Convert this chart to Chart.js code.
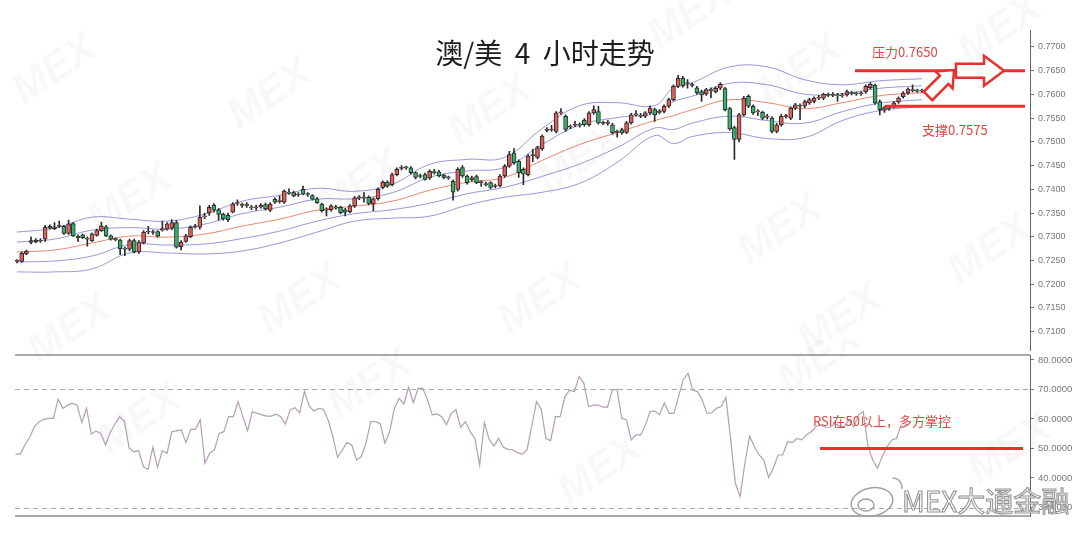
<!DOCTYPE html>
<html>
<head>
<meta charset="utf-8">
<script src="https://cdn.jsdelivr.net/npm/chart.js@4.4.0/dist/chart.umd.min.js"></script>
<style>
  html, body { margin: 0; padding: 0; background: #fff; }
  #wrap { position: relative; width: 1080px; height: 534px; overflow: hidden; }
  #priceChart { position: absolute; left: 0; top: 0; }
  #rsiChart { position: absolute; left: 0; top: 340px; }
</style>
</head>
<body>
<div id="wrap">
  <canvas id="priceChart" width="1080" height="360"></canvas>
  <canvas id="rsiChart" width="1080" height="194"></canvas>
</div>
<script>
// AUD/USD 4h candles (oldest first)
const opens = [
  .7248,.7248,.7264,.7288,.7289,.7293,.7295,.7322,.7317,.7322,
  .7322,.7307,.7328,.7301,.7304,.7297,.7292,.7303,.7313,.7321,
  .7302,.7295,.7293,.7276,.7274,.7292,.7268,.7287,.7310,.7311,
  .7311,.7314,.7316,.7318,.7330,.7279,.7290,.7300,.7320,.7320,
  .7342,.7350,.7366,.7357,.7348,.7345,.7352,.7370,.7368,.7366,
  .7363,.7361,.7363,.7368,.7356,.7379,.7374,.7373,.7394,.7393,
  .7388,.7400,.7390,.7387,.7380,.7369,.7356,.7357,.7363,.7362,
  .7357,.7353,.7365,.7382,.7383,.7383,.7369,.7380,.7404,.7415,
  .7410,.7431,.7444,.7446,.7445,.7435,.7427,.7431,.7424,.7436,
  .7437,.7430,.7425,.7417,.7400,.7446,.7428,.7420,.7427,.7414,
  .7412,.7414,.7406,.7407,.7428,.7449,.7477,.7459,.7442,.7431,
  .7471,.7467,.7485,.7524,.7527,.7522,.7561,.7554,.7531,.7535,
  .7537,.7546,.7536,.7561,.7564,.7541,.7539,.7536,.7520,.7526,
  .7520,.7540,.7557,.7556,.7554,.7561,.7568,.7562,.7564,.7575,
  .7589,.7617,.7634,.7623,.7621,.7614,.7606,.7601,.7610,.7606,
  .7613,.7612,.7570,.7530,.7505,.7557,.7596,.7575,.7563,.7562,
  .7552,.7550,.7522,.7536,.7553,.7550,.7571,.7577,.7575,.7582,
  .7585,.7592,.7592,.7600,.7598,.7599,.7597,.7599,.7604,.7602,
  .7601,.7605,.7614,.7619,.7585,.7567,.7571,.7574,.7584,.7595,
  .7603,.7610,.7608,.7607
];
const highs = [
  .7252,.7268,.7272,.7300,.7296,.7296,.7324,.7325,.7330,.7333,
  .7324,.7335,.7330,.7304,.7306,.7300,.7308,.7316,.7331,.7324,
  .7304,.7298,.7295,.7278,.7295,.7295,.7292,.7313,.7322,.7314,
  .7313,.7333,.7330,.7336,.7334,.7292,.7305,.7323,.7326,.7365,
  .7350,.7366,.7370,.7360,.7350,.7350,.7372,.7378,.7371,.7372,
  .7366,.7367,.7370,.7371,.7372,.7382,.7386,.7399,.7401,.7396,
  .7393,.7407,.7393,.7389,.7383,.7371,.7361,.7368,.7366,.7364,
  .7360,.7368,.7385,.7387,.7393,.7386,.7382,.7403,.7418,.7418,
  .7434,.7445,.7450,.7449,.7448,.7437,.7432,.7434,.7441,.7442,
  .7440,.7432,.7428,.7420,.7446,.7450,.7430,.7428,.7430,.7418,
  .7415,.7416,.7411,.7431,.7452,.7480,.7486,.7462,.7445,.7473,
  .7484,.7491,.7515,.7530,.7535,.7564,.7570,.7557,.7536,.7543,
  .7540,.7549,.7564,.7576,.7575,.7544,.7545,.7539,.7525,.7529,
  .7543,.7560,.7566,.7560,.7564,.7576,.7571,.7568,.7578,.7592,
  .7620,.7640,.7638,.7631,.7624,.7617,.7609,.7613,.7614,.7616,
  .7625,.7615,.7573,.7533,.7560,.7596,.7599,.7578,.7568,.7565,
  .7558,.7553,.7539,.7558,.7558,.7574,.7581,.7580,.7588,.7592,
  .7595,.7598,.7603,.7603,.7604,.7602,.7602,.7609,.7607,.7605,
  .7606,.7620,.7625,.7622,.7588,.7575,.7574,.7585,.7595,.7606,
  .7614,.7620,.7611,.7611
];
const lows = [
  .7245,.7246,.7262,.7285,.7287,.7288,.7290,.7316,.7315,.7319,
  .7305,.7305,.7300,.7290,.7296,.7280,.7290,.7301,.7311,.7300,
  .7293,.7291,.7262,.7260,.7270,.7266,.7265,.7285,.7306,.7305,
  .7299,.7312,.7314,.7315,.7276,.7272,.7288,.7298,.7318,.7316,
  .7338,.7345,.7352,.7335,.7335,.7332,.7350,.7366,.7362,.7362,
  .7357,.7356,.7360,.7356,.7353,.7370,.7371,.7370,.7389,.7384,
  .7385,.7388,.7385,.7377,.7370,.7352,.7344,.7354,.7358,.7348,
  .7344,.7350,.7362,.7378,.7373,.7367,.7355,.7377,.7401,.7404,
  .7407,.7428,.7441,.7442,.7432,.7422,.7424,.7419,.7421,.7432,
  .7426,.7422,.7421,.7377,.7396,.7425,.7411,.7417,.7412,.7406,
  .7407,.7401,.7403,.7405,.7425,.7446,.7453,.7425,.7410,.7428,
  .7458,.7464,.7482,.7521,.7522,.7519,.7558,.7522,.7528,.7532,
  .7531,.7533,.7533,.7558,.7537,.7536,.7535,.7516,.7510,.7516,
  .7517,.7537,.7554,.7551,.7551,.7558,.7543,.7559,.7561,.7572,
  .7586,.7614,.7615,.7613,.7616,.7600,.7585,.7598,.7593,.7603,
  .7610,.7565,.7524,.7463,.7500,.7554,.7572,.7558,.7555,.7547,
  .7548,.7519,.7519,.7533,.7550,.7547,.7568,.7547,.7572,.7579,
  .7582,.7589,.7589,.7595,.7595,.7585,.7594,.7596,.7599,.7598,
  .7598,.7602,.7611,.7579,.7557,.7562,.7566,.7571,.7581,.7592,
  .7600,.7605,.7604,.7604
];
const closes = [
  .7249,.7265,.7270,.7292,.7293,.7291,.7320,.7318,.7321,.7323,
  .7307,.7327,.7302,.7298,.7298,.7295,.7306,.7313,.7323,.7302,
  .7295,.7294,.7275,.7274,.7292,.7268,.7289,.7310,.7312,.7309,
  .7301,.7317,.7327,.7330,.7278,.7289,.7302,.7320,.7322,.7341,
  .7344,.7362,.7356,.7347,.7338,.7336,.7369,.7372,.7366,.7367,
  .7361,.7362,.7366,.7359,.7369,.7373,.7376,.7396,.7392,.7386,
  .7390,.7390,.7389,.7379,.7372,.7355,.7358,.7365,.7361,.7351,
  .7352,.7365,.7382,.7383,.7382,.7370,.7380,.7400,.7415,.7407,
  .7431,.7442,.7446,.7445,.7435,.7425,.7429,.7421,.7438,.7435,
  .7428,.7425,.7424,.7394,.7442,.7428,.7414,.7424,.7414,.7415,
  .7410,.7404,.7408,.7428,.7449,.7473,.7456,.7435,.7432,.7470,
  .7473,.7488,.7512,.7527,.7525,.7561,.7563,.7526,.7533,.7537,
  .7535,.7536,.7561,.7568,.7540,.7539,.7541,.7519,.7522,.7519,
  .7540,.7557,.7559,.7554,.7561,.7571,.7557,.7564,.7575,.7589,
  .7617,.7634,.7618,.7625,.7619,.7603,.7599,.7610,.7608,.7613,
  .7621,.7568,.7527,.7505,.7557,.7592,.7575,.7561,.7565,.7550,
  .7554,.7522,.7536,.7554,.7555,.7571,.7578,.7575,.7585,.7589,
  .7592,.7594,.7600,.7598,.7600,.7597,.7599,.7606,.7602,.7601,
  .7603,.7617,.7621,.7582,.7568,.7572,.7570,.7582,.7592,.7603,
  .7611,.7608,.7607,.7608
];

// bollinger lines, sampled at these candle numbers
const bandIdx = [0,8,16,24,32,40,48,56,64,72,80,88,96,104,112,120,128,136,140,144,152,160,168,176,184,193];
const bbUpper2 = [.73098,.73182,.73413,.73371,.73329,.73476,.73749,.73874,.74021,.73958,.74105,.74525,.74630,.74672,.75280,.75762,.75825,.75762,.76140,.76245,.76580,.76580,.76308,.76203,.76287,.76329];
const bbUpper1 = [.72889,.72951,.73140,.73193,.73161,.73266,.73486,.73623,.73791,.73801,.73927,.74252,.74388,.74462,.74944,.75353,.75511,.75605,.75846,.75962,.76234,.76203,.76004,.76014,.76129,.76182];
const bbMid    = [.72679,.72721,.72868,.73014,.72993,.73056,.73224,.73371,.73560,.73644,.73749,.73979,.74147,.74252,.74609,.74944,.75196,.75448,.75553,.75678,.75888,.75825,.75699,.75825,.75972,.76035];
const bbLower1 = [.72469,.72490,.72595,.72836,.72826,.72847,.72962,.73119,.73329,.73486,.73570,.73707,.73906,.74042,.74273,.74535,.74881,.75290,.75259,.75395,.75542,.75448,.75395,.75636,.75815,.75888];
const bbLower2 = [.72259,.72259,.72322,.72658,.72658,.72637,.72700,.72868,.73098,.73329,.73392,.73434,.73665,.73832,.73937,.74126,.74567,.75133,.74965,.75112,.75196,.75070,.75091,.75448,.75657,.75741];

const rsiValues = [
  48.1,48.1,51.2,53.8,57.4,59.1,59.9,60.2,60.2,66.7,
  63.6,64.7,65.3,64.7,58.8,63.6,54.9,55.9,55.1,51.2,
  55.4,58.3,60.8,59.1,50.1,48.9,49.3,43.8,42.9,50.4,
  43.6,49.3,48.4,55.7,56.0,56.3,52.0,56.5,56.5,59.7,
  45.0,48.4,49.5,55.1,55.7,60.8,60.8,65.9,60.8,56.0,
  62.5,61.9,61.4,61.0,61.0,61.6,60.8,58.3,63.1,63.8,
  62.1,69.3,64.4,62.7,63.6,63.3,59.7,54.0,47.0,49.5,
  52.0,51.2,46.1,47.2,51.8,59.1,59.1,58.5,51.8,55.7,
  63.6,67.0,65.1,70.7,65.5,70.4,70.4,66.4,61.4,61.7,
  60.8,58.0,61.9,63.1,57.2,59.1,55.7,53.4,44.4,58.8,
  53.1,50.8,53.4,50.4,49.7,49.5,48.6,48.1,49.5,57.6,
  65.9,63.3,53.4,52.7,60.8,
  60.8,67.6,69.8,69.3,74.4,72.1,64.2,64.7,64.7,64.0,
  64.0,69.8,70.1,60.2,59.7,52.9,54.6,54.6,58.0,62.5,
  62.7,61.4,65.5,61.9,61.9,67.6,73.4,75.5,69.8,69.3,
  66.4,61.9,62.1,63.6,64.2,67.3,52.9,38.2,33.7,45.0,
  54.2,50.6,47.8,46.1,40.2,43.3,47.8,47.8,52.3,52.0,
  53.4,52.9,54.6,55.7,57.4,58.0,57.2,57.2,58.5,57.6,
  57.4,59.7,57.2,61.4,62.5,50.6,46.1,43.3,47.2,50.6,
  52.9,53.4,58.0
];

const priceTicks = [0.7100,0.7150,0.7200,0.7250,0.7300,0.7350,0.7400,0.7450,0.7500,0.7550,0.7600,0.7650,0.7700];
const rsiTicks = [30,40,50,60,70,80];
const resistance = 0.7650;
const support = 0.7575;

const upColor = '#e35d58';
const downColor = '#34b26c';
const bandColor = 'rgba(125,125,210,0.8)';
const midColor = '#e8866f';
const annoRed = '#e8302c';

const candleIdx = opens.map((_, i) => i);
const wickData = candleIdx.map(i => ({x: i, y: [lows[i], highs[i]]}));
const bodyData = candleIdx.map(i => ({x: i, y: [Math.min(opens[i], closes[i]), Math.max(opens[i], closes[i])]}));
const bodyColors = candleIdx.map(i => closes[i] >= opens[i] ? upColor : downColor);
const band = arr => bandIdx.map((x, k) => ({x: x, y: arr[k]}));

function bandLine(arr, color) {
  return {
    type: 'line', data: band(arr), borderColor: color, borderWidth: 1,
    pointRadius: 0, tension: 0.4, fill: false, order: 3
  };
}

function watermarks(ctx, spots) {
  ctx.save();
  ctx.fillStyle = 'rgba(0,0,0,0.028)';
  ctx.font = 'italic bold 42px Arial';
  ctx.textAlign = 'center';
  ctx.textBaseline = 'middle';
  spots.forEach(p => {
    ctx.save();
    ctx.translate(p[0], p[1]);
    ctx.rotate(-0.6);
    ctx.fillText('MEX', 0, 0);
    ctx.restore();
  });
  ctx.restore();
}

function hollowArrow(ctx, x0, y0, x1, y1, shaft, head, headLen) {
  const len = Math.hypot(x1 - x0, y1 - y0);
  ctx.save();
  ctx.translate(x0, y0);
  ctx.rotate(Math.atan2(y1 - y0, x1 - x0));
  ctx.beginPath();
  ctx.moveTo(0, -shaft);
  ctx.lineTo(len - headLen, -shaft);
  ctx.lineTo(len - headLen, -head);
  ctx.lineTo(len, 0);
  ctx.lineTo(len - headLen, head);
  ctx.lineTo(len - headLen, shaft);
  ctx.lineTo(0, shaft);
  ctx.closePath();
  ctx.fillStyle = '#fff';
  ctx.fill();
  ctx.lineWidth = 2.5;
  ctx.strokeStyle = annoRed;
  ctx.stroke();
  ctx.restore();
}

const priceDecor = {
  id: 'priceDecor',
  afterDatasetsDraw(chart) {
    const ctx = chart.ctx;
    const y = chart.scales.y;
    const yR = y.getPixelForValue(resistance);
    const yS = y.getPixelForValue(support);
    ctx.save();
    ctx.strokeStyle = annoRed;
    ctx.lineWidth = 3;
    ctx.beginPath();
    ctx.moveTo(855, yR); ctx.lineTo(1025, yR);
    ctx.moveTo(885, yS); ctx.lineTo(1025, yS);
    ctx.stroke();
    hollowArrow(ctx, 928, 96, 954, 70, 6, 12, 14);
    hollowArrow(ctx, 956, yR, 1004, yR, 7, 15, 20);
    ctx.fillStyle = '#e0463f';
    ctx.font = '13px "Noto Sans CJK SC"';
    ctx.textBaseline = 'alphabetic';
    ctx.fillText('压力0.7650', 872, 57);
    ctx.fillText('支撑0.7575', 922, 135);
    ctx.fillStyle = '#1e1e1e';
    ctx.font = '28px "Noto Sans CJK SC"';
    ctx.textAlign = 'center';
    ctx.fillText('澳/美  4  小时走势', 545, 64);
    ctx.restore();
  },
  afterDraw(chart) {
    watermarks(chart.ctx, [[55,70],[270,95],[490,110],[690,15],[130,200],[360,185],[580,160],[800,70],[1000,30],
      [70,330],[300,300],[540,300],[780,230],[990,250],[840,320]]);
  }
};

const rsiDecor = {
  id: 'rsiDecor',
  beforeDatasetsDraw(chart) {
    const ctx = chart.ctx;
    const a = chart.chartArea;
    const y = chart.scales.y;
    ctx.save();
    ctx.strokeStyle = '#8c8c8c';
    ctx.lineWidth = 1.5;
    ctx.beginPath();
    ctx.moveTo(a.left, a.top); ctx.lineTo(a.right, a.top);
    ctx.moveTo(a.left, a.bottom); ctx.lineTo(a.right, a.bottom);
    ctx.stroke();
    ctx.strokeStyle = '#a8a8a8';
    ctx.lineWidth = 1;
    ctx.setLineDash([5, 4]);
    [70, 30].forEach(v => {
      const py = Math.round(y.getPixelForValue(v)) + 0.5;
      ctx.beginPath();
      ctx.moveTo(a.left, py); ctx.lineTo(a.right, py);
      ctx.stroke();
    });
    ctx.restore();
  },
  afterDatasetsDraw(chart) {
    const ctx = chart.ctx;
    const y = chart.scales.y;
    const y50 = y.getPixelForValue(50);
    ctx.save();
    ctx.strokeStyle = annoRed;
    ctx.lineWidth = 3;
    ctx.beginPath();
    ctx.moveTo(820, y50); ctx.lineTo(1023, y50);
    ctx.stroke();
    ctx.fillStyle = '#e0463f';
    ctx.font = '13px "Noto Sans CJK SC"';
    ctx.fillText('RSI在50以上，多方掌控', 813, 86);
    ctx.restore();
  },
  afterDraw(chart) {
    const ctx = chart.ctx;
    watermarks(ctx, [[140,80],[370,45],[600,130],[820,20],[1010,110]]);
    ctx.save();
    // weibo style mark bottom right
    ctx.strokeStyle = '#a0a0a0';
    ctx.lineWidth = 1.5;
    ctx.beginPath();
    ctx.ellipse(872, 162, 21, 14, -0.2, 0, Math.PI * 2);
    ctx.stroke();
    ctx.beginPath();
    ctx.ellipse(866, 165, 8, 6, 0, 0, Math.PI * 2);
    ctx.stroke();
    ctx.beginPath();
    ctx.arc(893, 147, 9, -1.6, 0.2);
    ctx.stroke();
    ctx.font = '28px "Noto Sans CJK SC"';
    ctx.fillStyle = 'rgba(255,255,255,0.9)';
    ctx.strokeStyle = '#959595';
    ctx.lineWidth = 1.1;
    ctx.fillText('MEX大通金融', 902, 172);
    ctx.strokeText('MEX大通金融', 902, 172);
    ctx.restore();
  }
};

new Chart(document.getElementById('priceChart'), {
  type: 'bar',
  data: {
    datasets: [
      bandLine(bbUpper2, bandColor),
      bandLine(bbUpper1, bandColor),
      bandLine(bbMid, midColor),
      bandLine(bbLower1, bandColor),
      bandLine(bbLower2, bandColor),
      {
        type: 'bar', data: wickData, backgroundColor: '#2a2a2a',
        barThickness: 1, grouped: false, order: 2, minBarLength: 1
      },
      {
        type: 'bar', data: bodyData, backgroundColor: bodyColors,
        borderColor: '#2a2a2a', borderWidth: 1, borderSkipped: false,
        barThickness: 4, grouped: false, order: 1, minBarLength: 1
      }
    ]
  },
  options: {
    responsive: false,
    animation: false,
    layout: { padding: { left: 15, top: 30, right: 0, bottom: 8 } },
    plugins: { legend: { display: false }, tooltip: { enabled: false } },
    scales: {
      x: { type: 'linear', display: false, min: -0.4265, max: 216.04, offset: false },
      y: {
        position: 'right', min: 0.70601, max: 0.77357,
        afterBuildTicks: s => { s.ticks = priceTicks.map(v => ({ value: v })); },
        afterFit: s => { s.width = 50; },
        grid: { drawOnChartArea: false, drawTicks: true, tickLength: 4, color: '#777' },
        border: { display: true, color: '#666', width: 1 },
        ticks: { font: { size: 9, family: 'Arial' }, color: '#777', padding: 4, callback: v => v.toFixed(4) }
      }
    }
  },
  plugins: [priceDecor]
});

new Chart(document.getElementById('rsiChart'), {
  type: 'line',
  data: {
    datasets: [{
      data: rsiValues.map((v, i) => ({ x: i, y: v })),
      borderColor: '#b49db6', borderWidth: 1.2, pointRadius: 0, tension: 0, fill: false
    }]
  },
  options: {
    responsive: false,
    animation: false,
    layout: { padding: { left: 15, top: 15, right: 0, bottom: 18 } },
    plugins: { legend: { display: false }, tooltip: { enabled: false } },
    scales: {
      x: { type: 'linear', display: false, min: -0.1056, max: 214.2 },
      y: {
        position: 'right', min: 27.12, max: 81.69,
        afterBuildTicks: s => { s.ticks = rsiTicks.map(v => ({ value: v })); },
        afterFit: s => { s.width = 50; },
        grid: { drawOnChartArea: false, drawTicks: true, tickLength: 4, color: '#777' },
        border: { display: true, color: '#666', width: 1 },
        ticks: { font: { size: 9.5, family: 'Arial' }, color: '#777', padding: 4, callback: v => v.toFixed(4) }
      }
    }
  },
  plugins: [rsiDecor]
});
</script>
</body>
</html>
